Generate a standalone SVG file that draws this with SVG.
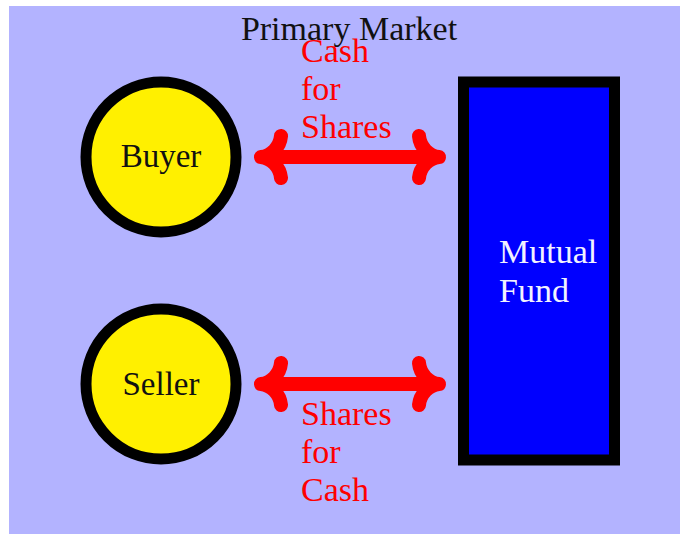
<svg xmlns="http://www.w3.org/2000/svg" width="680" height="534" viewBox="0 0 680 534">
  <style>
    text { font-family: 'Liberation Serif', 'Times New Roman', Times, serif; font-size: 34px; }
    .party circle { fill: #fff000; stroke: #000; stroke-width: 11; }
    .party text { font-size: 33px; }
    .lbl { fill: #111; text-anchor: middle; }
    .flow { fill: #ff0000; }
    .arrow path { fill: none; stroke: #ff0000; stroke-width: 14; stroke-linecap: round; stroke-linejoin: round; }
  </style>
  <defs>
    <!-- double-headed arrow with curved barbs, drawn around the origin -->
    <g id="dblarrow" class="arrow">
      <path d="M -82 0 H 82"/>
      <path d="M -69 -21 C -70 -10, -79 -1, -89 0 C -79 1, -70 10, -69 21"/>
      <path d="M 69 -21 C 70 -10, 79 -1, 89 0 C 79 1, 70 10, 69 21"/>
    </g>
  </defs>

  <!-- market backdrop -->
  <rect x="9" y="6" width="671" height="528" fill="#b3b3ff"/>
  <text class="lbl" x="349" y="40">Primary Market</text>

  <g id="buyer" class="party">
    <circle cx="161" cy="157" r="75"/>
    <text class="lbl" x="161" y="167">Buyer</text>
  </g>

  <g id="seller" class="party">
    <circle cx="161" cy="384" r="75"/>
    <text class="lbl" x="161" y="395">Seller</text>
  </g>

  <g id="fund">
    <rect x="463.5" y="82" width="151" height="378" fill="#0000ff" stroke="#000" stroke-width="11"/>
    <text x="499" y="263" fill="#f2f2ff">Mutual</text>
    <text x="499" y="302" fill="#f2f2ff">Fund</text>
  </g>

  <g id="connectors">
    <use href="#dblarrow" transform="translate(350 157)"/>
    <use href="#dblarrow" transform="translate(350 384)"/>
    <text class="flow" x="301" y="62">Cash</text>
    <text class="flow" x="301" y="100">for</text>
    <text class="flow" x="301" y="138">Shares</text>
    <text class="flow" x="301" y="425">Shares</text>
    <text class="flow" x="301" y="463">for</text>
    <text class="flow" x="301" y="501">Cash</text>
  </g>
</svg>
